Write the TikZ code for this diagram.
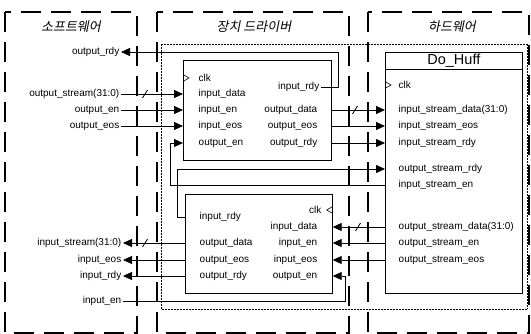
\documentclass[tikz,border=0pt]{standalone}
\usepackage{fontspec}
\setmainfont{Liberation Sans}
\newfontfamily\cjk[FakeSlant=0.2]{Noto Sans CJK KR}
\usetikzlibrary{arrows.meta}

\begin{document}
\begin{tikzpicture}[
  x=1pt, y=-1pt,
  >={Triangle[length=9pt, width=8pt]},
  every node/.style={font=\fontsize{10}{12}\selectfont, inner sep=1.5pt},
  zone/.style={draw, line width=2.4pt, dash pattern=on 20pt off 10pt},
  zonetitle/.style={font=\cjk\fontsize{13}{15}\selectfont},
  blk/.style={draw, line width=0.7pt, anchor=north west},
  lport/.style={anchor=west},
  rport/.style={anchor=east},
  swlab/.style={anchor=east},
  sig/.style={line width=0.8pt},
  clkmark/.style={line width=0.6pt}
]
\useasboundingbox (0,0) rectangle (531,334);

% regions
\draw[zone] (5,12) rectangle (137,333);
\draw[zone] (157,12) rectangle (349,333);
\draw[zone] (368,12) rectangle (529,333);
\draw[densely dotted, line width=0.5pt] (161,44) rectangle (527,309);

\node[zonetitle] (swtitle) at (71,27) {소프트웨어};
\node[zonetitle] (drvtitle) at (254,27) {장치 드라이버};
\node[zonetitle] (hwtitle) at (452,27) {하드웨어};

% software side
\node[swlab] (swordy) at (121,52) {output\_rdy};
\node[swlab] (swostr) at (121,94) {output\_stream(31:0)};
\node[swlab] (swoen) at (121,110) {output\_en};
\node[swlab] (swoeos) at (121,126) {output\_eos};
\node[swlab] (swistr) at (123,243) {input\_stream(31:0)};
\node[swlab] (swieos) at (123,260) {input\_eos};
\node[swlab] (swirdy) at (123,276) {input\_rdy};
\node[swlab] (swien) at (123,301) {input\_en};

% driver, upper block
\node[blk, minimum width=148pt, minimum height=100pt] (drv1) at (183,60) {};
\node[lport] (d1clk) at (197,78) {clk};
\node[lport] (d1idata) at (197,94) {input\_data};
\node[lport] (d1ien) at (197,110) {input\_en};
\node[lport] (d1ieos) at (197,126) {input\_eos};
\node[lport] (d1oen) at (197,143) {output\_en};
\node[rport] (d1irdy) at (321,87) {input\_rdy};
\node[rport] (d1odata) at (319,110) {output\_data};
\node[rport] (d1oeos) at (319,126) {output\_eos};
\node[rport] (d1ordy) at (319,143) {output\_rdy};
\draw[clkmark] (d1clk.west -| drv1.west) ++(0,-3.5) -- ++(6,3.5) -- ++(-6,3.5);

% driver, lower block
\node[blk, minimum width=147pt, minimum height=99pt] (drv2) at (185,194) {};
\node[rport] (d2clk) at (323,210) {clk};
\node[lport] (d2irdy) at (198,217) {input\_rdy};
\node[rport] (d2idata) at (319,227) {input\_data};
\node[lport] (d2odata) at (198,243) {output\_data};
\node[lport] (d2oeos) at (198,260) {output\_eos};
\node[lport] (d2ordy) at (198,276) {output\_rdy};
\node[rport] (d2ien) at (319,243) {input\_en};
\node[rport] (d2ieos) at (319,260) {input\_eos};
\node[rport] (d2oen) at (319,276) {output\_en};
\draw[clkmark] (d2clk.east -| drv2.east) ++(0,-3.5) -- ++(-6,3.5) -- ++(6,3.5);

% hardware
\node[blk, minimum width=137pt, minimum height=241pt] (huff) at (385,52) {};
\draw[line width=0.7pt] ([yshift=-17pt]huff.north west) -- ([yshift=-17pt]huff.north east);
\node[font=\fontsize{14.5}{16}\selectfont] (hufftitle) at ([yshift=-8.5pt]huff.north) {Do\_Huff};
\node[lport] (hclk) at (397,85) {clk};
\node[lport] (hisdata) at (397,110) {input\_stream\_data(31:0)};
\node[lport] (hiseos) at (397,126) {input\_stream\_eos};
\node[lport] (hisrdy) at (397,143) {input\_stream\_rdy};
\node[lport] (hosrdy) at (397,169) {output\_stream\_rdy};
\node[lport] (hisen) at (397,185) {input\_stream\_en};
\node[lport] (hosdata) at (397,227) {output\_stream\_data(31:0)};
\node[lport] (hosen) at (397,243) {output\_stream\_en};
\node[lport] (hoseos) at (397,260) {output\_stream\_eos};
\draw[clkmark] (hclk.west -| huff.west) ++(0,-3.5) -- ++(6,3.5) -- ++(-6,3.5);

% turning points
\coordinate (rdyup) at (338,52);
\coordinate (rdyturn) at (177,0);
\coordinate (enturn) at (170,0);
\coordinate (ienturn) at (345,0);

% software -> driver
\draw[sig,->] (d1irdy.east) -| (rdyup) -- (swordy.east);
\draw[sig,->] (swostr.east) -- (swostr.east -| drv1.west);
\draw[sig,->] (swoen.east) -- (swoen.east -| drv1.west);
\draw[sig,->] (swoeos.east) -- (swoeos.east -| drv1.west);

% driver -> hardware
\draw[sig,->] (d1odata.east -| drv1.east) -- (d1odata.east -| huff.west);
\draw[sig,->] (d1oeos.east -| drv1.east) -- (d1oeos.east -| huff.west);
\draw[sig,->] (d1ordy.east -| drv1.east) -- (d1ordy.east -| huff.west);
\draw[sig,->] (d2irdy.west -| drv2.west) -| (hosrdy.west -| rdyturn) -- (hosrdy.west -| huff.west);
\draw[sig,->] (hisen.west -| huff.west) -- (hisen.west -| enturn) |- (d1oen.west -| drv1.west);

% hardware -> driver
\draw[sig,->] (hosdata.west -| huff.west) -- (hosdata.west -| drv2.east);
\draw[sig,->] (hosen.west -| huff.west) -- (hosen.west -| drv2.east);
\draw[sig,->] (hoseos.west -| huff.west) -- (hoseos.west -| drv2.east);

% driver -> software
\draw[sig,->] (d2odata.west -| drv2.west) -- (swistr.east);
\draw[sig,->] (d2oeos.west -| drv2.west) -- (swieos.east);
\draw[sig,->] (d2ordy.west -| drv2.west) -- (swirdy.east);
\draw[sig,->] (swien.east) -- (swien.east -| ienturn) |- (d2oen.east -| drv2.east);

% bus marks
\foreach \bx/\by in {145/94, 355/110, 358/227, 145/243}
  \draw[sig] (\bx,\by) ++(-2.5,4) -- ++(5,-8);
\end{tikzpicture}
\end{document}
